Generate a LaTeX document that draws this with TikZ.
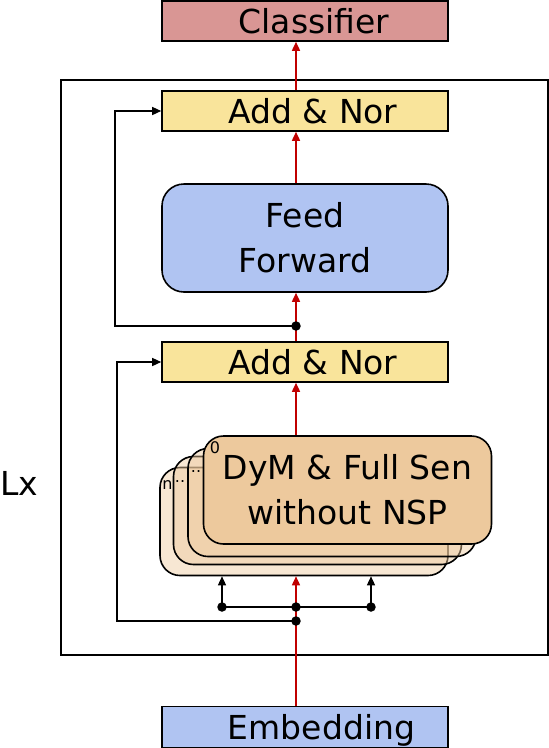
\documentclass[tikz,border=0pt]{standalone}
\usepackage{fontspec}
\setmainfont{DejaVu Sans}
\usetikzlibrary{arrows.meta}
\definecolor{clscol}{RGB}{217,150,148}
\definecolor{addcol}{RGB}{249,228,155}
\definecolor{ffcol}{RGB}{176,196,242}
\definecolor{dymcol}{RGB}{237,201,157}
\definecolor{flowcol}{RGB}{192,0,0}
\newcommand{\bigfont}{\fontsize{33}{45}\selectfont}
\newcommand{\tinyfont}{\fontsize{16}{18}\selectfont}

\tikzset{
  block/.style={draw, line width=1.6pt, minimum width=286pt, minimum height=40pt, inner sep=0pt, font=\bigfont},
  dymbox/.style={draw, line width=1.6pt, fill=dymcol, rounded corners=20pt, minimum width=288pt, minimum height=108pt, inner sep=0pt},
  flow/.style={draw=flowcol, line width=1.6pt, -{Triangle[length=9pt,width=8pt]}},
  shortcut/.style={draw=black, line width=1.4pt, -{Triangle[length=9pt,width=8pt]}},
  joint/.style={circle, fill=black, inner sep=0pt, minimum size=9.5pt},
  tag/.style={font=\tinyfont, inner sep=0pt},
}

\begin{document}
\begin{tikzpicture}[x=1pt, y=-1pt]
  \useasboundingbox (0,0) rectangle (549,748);

  % the repeated layer
  \draw[line width=1.6pt] (61,80) rectangle (548,655);
  \node[anchor=base west, inner sep=0pt, font=\bigfont] (lx) at (0,495) {Lx};

  \node[block, fill=clscol] (cls) at (305,21) {\hspace*{18pt}Classifier};
  \node[block, fill=addcol] (add1) at (305,111) {\hspace*{16pt}Add \& Nor};
  \node[block, fill=ffcol, rounded corners=22pt, minimum height=108pt, align=center] (ff) at (305,238) {Feed\\Forward};
  \node[block, fill=addcol] (add2) at (305,362) {\hspace*{16pt}Add \& Nor};
  \node[block, fill=ffcol, minimum height=41pt, text depth=0pt] (emb) at (305,727) {\hspace*{33pt}Embedding};

  % stacked heads, back to front
  \node[dymbox, fill opacity=0.45] (dymn) at (304,521.5) {};
  \node[tag] (tagn) at (167.5,485) {n};
  \node[dymbox, fill opacity=0.45] (dym2) at (317.5,510.5) {};
  \node[tag, anchor=base] (tag2) at (180,482) {..};
  \node[dymbox, fill opacity=0.45] (dym1) at (332,502.5) {};
  \node[tag, anchor=base] (tag1) at (196,472) {..};
  \node[dymbox, font=\bigfont, align=center] (dym0) at (347.5,490) {DyM \& Full Sen\\without NSP};
  \node[tag] (tag0) at (215,448) {0};

  % main flow
  \coordinate (axis) at (296,0);
  \draw[flow] (emb.north -| axis) -- (dymn.south -| axis);
  \draw[flow] (dym0.north -| axis) -- (add2.south -| axis);
  \draw[flow] (add2.north -| axis) -- (ff.south -| axis);
  \draw[flow] (ff.north -| axis) -- (add1.south -| axis);
  \draw[flow] (add1.north -| axis) -- (cls.south -| axis);

  % residuals and split
  \node[joint] (res1) at (296,621) {};
  \node[joint] (fork) at (296,607) {};
  \node[joint] (forkl) at (222,607) {};
  \node[joint] (forkr) at (371,607) {};
  \node[joint] (res2) at (296,326) {};

  \draw[shortcut] (res1.center) -- (117,621) |- (add2.west);
  \draw[shortcut] (res2.center) -- (115,326) |- (add1.west);
  \draw[line width=1.4pt] (forkl.center) -- (forkr.center);
  \draw[shortcut] (forkl.center) -- (forkl |- dymn.south);
  \draw[shortcut] (forkr.center) -- (forkr |- dymn.south);

\end{tikzpicture}
\end{document}
